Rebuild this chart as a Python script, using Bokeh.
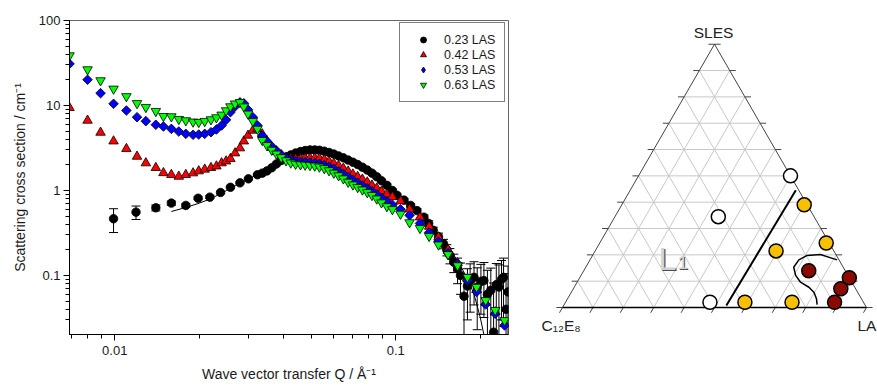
import math
from bokeh.plotting import figure
from bokeh.layouts import row
from bokeh.models import FixedTicker, Legend, LegendItem, Range1d
from bokeh.core.properties import value
from bokeh.embed import file_html
from bokeh.resources import INLINE

FONT = "Liberation Sans"

# ---------------- SANS data ----------------
Q = [0.0069, 0.0080, 0.0089, 0.0099, 0.0110, 0.0120, 0.0129, 0.0140, 0.0149, 0.0159,
     0.0169, 0.0179, 0.0190, 0.0199, 0.0209, 0.0220, 0.0230, 0.0240, 0.0249, 0.0258,
     0.0268, 0.0279, 0.0288, 0.0298, 0.0310, 0.0322,
     0.0335, 0.0348, 0.0362, 0.0376, 0.0391, 0.0407, 0.0423, 0.0440, 0.0458, 0.0476,
     0.0495, 0.0515, 0.0535, 0.0557, 0.0579, 0.0602, 0.0626, 0.0651, 0.0677, 0.0704,
     0.0732, 0.0761, 0.0792, 0.0823, 0.0856, 0.0890, 0.0930,
     0.0973, 0.104, 0.112, 0.122, 0.1315, 0.142, 0.1535, 0.166, 0.180, 0.194, 0.209,
     0.226, 0.244]

I_063 = [38.7, 26.5, 19.7, 15.7, 12.8, 10.6, 9.55, 8.57, 7.48, 7.42,
         6.9, 6.66, 6.43, 6.36, 6.54, 6.84, 7.22, 7.77, 8.73, 9.73,
         10.5, 10.9, 9.7, 7.98, 6.54, 5.3,
         3.9, 3.4, 3.0, 2.7, 2.45, 2.25, 2.12, 2.05, 2.02, 2.0,
         1.98, 1.95, 1.9, 1.82, 1.72, 1.61, 1.5, 1.38, 1.26, 1.17,
         1.09, 1.02, 0.95, 0.88, 0.8, 0.72, 0.65,
         0.6, 0.53, 0.42, 0.36, 0.29, 0.23, 0.177, 0.131, 0.0955, 0.073, 0.051,
         0.039, 0.0296]

I_053 = [30.9, 20.1, 13.96, 10.47, 8.73, 7.28, 6.54, 5.93, 5.66, 5.31,
         4.94, 4.64, 4.52, 4.55, 4.64, 4.85, 5.22, 5.82, 6.78, 8.34,
         9.73, 10.9, 10.6, 8.9, 7.28, 5.82,
         4.4, 3.8, 3.3, 2.95, 2.65, 2.42, 2.28, 2.2, 2.17, 2.15,
         2.13, 2.1, 2.06, 1.99, 1.9, 1.8, 1.68, 1.56, 1.44, 1.33,
         1.23, 1.14, 1.06, 0.98, 0.9, 0.82, 0.74,
         0.68, 0.6, 0.51, 0.41, 0.32, 0.25, 0.183, 0.137, 0.087, 0.064, 0.0456,
         0.0354, 0.0258]

I_042 = [9.4, 6.66, 4.81, 3.8, 3.09, 2.51, 2.1, 1.85, 1.61, 1.53,
         1.46, 1.53, 1.6, 1.69, 1.77, 1.85, 1.93, 2.1, 2.21, 2.36,
         2.75, 3.15, 3.8, 4.44, 5.08, 5.3,
         4.6, 3.8, 3.2, 2.85, 2.6, 2.45, 2.38, 2.35, 2.35, 2.38,
         2.4, 2.4, 2.38, 2.3, 2.2, 2.08, 1.96, 1.82, 1.68, 1.55,
         1.45, 1.35, 1.25, 1.15, 1.06, 0.98, 0.9,
         0.84, 0.75, 0.6, 0.485, 0.377, 0.282, 0.2, 0.14, 0.092, 0.068, 0.048,
         0.037, 0.027]

Q_023 = [0.0099, 0.0119, 0.0140, 0.0159, 0.0179, 0.0198, 0.0218, 0.0238, 0.0258, 0.0279,
         0.0299, 0.0322,
         0.0335, 0.0348, 0.0362, 0.0376, 0.0391, 0.0407, 0.0423, 0.0440, 0.0458, 0.0476,
         0.0495, 0.0515, 0.0535, 0.0557, 0.0579, 0.0602, 0.0626, 0.0651, 0.0677, 0.0704,
         0.0732, 0.0761, 0.0792, 0.0823, 0.0856, 0.0890, 0.0930, 0.0973,
         0.101, 0.107, 0.113, 0.119, 0.126, 0.131, 0.136, 0.142, 0.148, 0.152,
         0.156, 0.161, 0.166, 0.170, 0.175, 0.180, 0.184, 0.190, 0.195, 0.201,
         0.206, 0.212, 0.218, 0.223, 0.228, 0.233, 0.238, 0.242, 0.247, 0.251]

I_023 = [0.465, 0.556, 0.625, 0.71, 0.667, 0.81, 0.835, 0.947, 1.09, 1.23,
         1.37, 1.53,
         1.6, 1.7, 1.85, 2.05, 2.25, 2.45, 2.62, 2.76, 2.87, 2.95,
         3.0, 3.0, 2.97, 2.9, 2.8, 2.68, 2.55, 2.42, 2.28, 2.15,
         2.02, 1.88, 1.74, 1.6, 1.45, 1.3, 1.15, 1.0,
         0.88, 0.77, 0.667, 0.58, 0.485, 0.41, 0.34, 0.285, 0.236, 0.2,
         0.172, 0.143, 0.12, 0.1, 0.057, 0.075, 0.087, 0.095, 0.073, 0.085,
         0.087, 0.06, 0.067, 0.0215, 0.078, 0.073, 0.09, 0.095, 0.04, 0.064]

E_023 = [0.145, 0.1, 0.05, 0.04, 0.03, 0.03, 0.03, 0.03, 0.03, 0.03,
         0.03, 0.03,
         0.04, 0.04, 0.04, 0.05, 0.05, 0.05, 0.06, 0.06, 0.06, 0.06,
         0.06, 0.06, 0.06, 0.06, 0.06, 0.06, 0.06, 0.06, 0.05, 0.05,
         0.05, 0.05, 0.05, 0.05, 0.04, 0.04, 0.04, 0.04,
         0.03, 0.03, 0.03, 0.03, 0.03, 0.03, 0.03, 0.03, 0.03, 0.03,
         0.035, 0.035, 0.04, 0.04, 0.045, 0.045, 0.05, 0.05, 0.05, 0.05,
         0.055, 0.055, 0.055, 0.06, 0.06, 0.06, 0.06, 0.065, 0.065, 0.065]

Q_FIT = [0.0159, 0.0179, 0.020, 0.022, 0.025, 0.028, 0.031, 0.035, 0.040, 0.045,
         0.050, 0.055, 0.060, 0.070, 0.080, 0.090, 0.100, 0.110, 0.120, 0.130,
         0.140, 0.150, 0.160, 0.170, 0.180, 0.190, 0.200, 0.206]
I_FIT = [0.566, 0.63, 0.71, 0.8, 1.0, 1.22, 1.45, 1.8, 2.35, 2.8,
         3.0, 2.95, 2.75, 2.25, 1.75, 1.3, 0.95, 0.72, 0.55, 0.42,
         0.32, 0.24, 0.18, 0.13, 0.092, 0.06, 0.032, 0.02]

SERIES_LABELS = ["0.23 LAS", "0.42 LAS", "0.53 LAS", "0.63 LAS"]
X_TICKS = [0.01, 0.1]
X_TICK_LABELS = ["0.01", "0.1"]
Y_TICKS = [0.1, 1.0, 10.0, 100.0]
Y_TICK_LABELS = ["0.1", "1", "10", "100"]

# ---------------- Ternary data (fractions: LA, SLES) ----------------
OPEN_LA = [0.50, 0.34, 0.475]
OPEN_SLES = [0.50, 0.345, 0.02]
YELLOW_LA = [0.60, 0.745, 0.595, 0.59, 0.745]
YELLOW_SLES = [0.39, 0.245, 0.215, 0.02, 0.02]
RED_LA = [0.74, 0.887, 0.88, 0.885]
RED_SLES = [0.14, 0.113, 0.071, 0.02]
BOUND_LA = [0.535, 0.545]
BOUND_SLES = [0.008, 0.445]
CURVE_LA = [0.813, 0.748, 0.706, 0.687, 0.684, 0.706, 0.735, 0.772, 0.798, 0.819, 0.832]
CURVE_SLES = [0.181, 0.201, 0.198, 0.181, 0.153, 0.122, 0.096, 0.077, 0.058, 0.033, 0.011]

# =============== left: SANS plot ===============
p = figure(width=539, height=386, x_axis_type="log", y_axis_type="log",
           x_range=Range1d(0.0069, 0.252), y_range=Range1d(0.0202, 100),
           output_backend="svg", toolbar_location=None,
           min_border_left=69, min_border_right=31, min_border_top=20, min_border_bottom=52)
p.grid.visible = False
p.outline_line_color = "#666666"
p.background_fill_color = "white"

minor_x = [0.007, 0.008, 0.009] + [k / 100 for k in range(2, 10)] + [0.2]
p.xaxis.ticker = FixedTicker(ticks=X_TICKS, minor_ticks=minor_x)
p.xaxis.major_label_overrides = {t: s for t, s in zip(X_TICKS, X_TICK_LABELS)}
minor_y = ([k / 100 for k in range(3, 10)] + [k / 10 for k in range(2, 10)]
           + [float(k) for k in range(2, 10)] + [float(k * 10) for k in range(2, 10)])
p.yaxis.ticker = FixedTicker(ticks=Y_TICKS, minor_ticks=minor_y)
p.yaxis.major_label_overrides = {t: s for t, s in zip(Y_TICKS, Y_TICK_LABELS)}

for ax in (p.xaxis[0], p.yaxis[0]):
    ax.axis_line_color = "black"
    ax.major_tick_line_color = "black"
    ax.minor_tick_line_color = "black"
    ax.major_tick_out = 6
    ax.major_tick_in = 0
    ax.minor_tick_out = 4
    ax.minor_tick_in = 0
    ax.major_label_text_font = FONT
    ax.major_label_text_font_size = "13px"
    ax.major_label_text_color = "#1a1a1a"
    ax.axis_label_text_font = FONT
    ax.axis_label_text_font_size = "14px"
    ax.axis_label_text_font_style = "normal"
    ax.axis_label_text_color = "#1a1a1a"
p.xaxis.major_label_standoff = 5
p.yaxis.major_label_standoff = 3

p.yaxis.axis_label = "Scattering cross section / cm\u207b\u00b9"
p.yaxis.axis_label_standoff = 8
p.xaxis.axis_label = "Wave vector transfer Q / \u00c5\u207b\u00b9"
p.xaxis.axis_label_standoff = 8

# error bars for 0.23
low = [max(i - e, 1e-3) for i, e in zip(I_023, E_023)]
high = [i + e for i, e in zip(I_023, E_023)]
p.segment(x0=Q_023, y0=low, x1=Q_023, y1=high, line_color="black", line_width=1)
p.scatter(Q_023, high, marker="dash", size=9, line_color="black", line_width=1)
p.scatter(Q_023, low, marker="dash", size=9, line_color="black", line_width=1)
p.line(Q_FIT, I_FIT, line_color="black", line_width=1)

r_b = p.scatter(Q_023, I_023, marker="circle", size=8.5, fill_color="black",
                line_color="black", line_width=0.8)
r_r = p.scatter(Q, I_042, marker="triangle", size=9.5, fill_color="#ff0000",
                line_color="black", line_width=0.8)
r_u = p.scatter(Q, I_053, marker="square", angle=math.pi / 4, size=6.8,
                fill_color="#0000ff", line_color="black", line_width=0.8)
r_g = p.scatter(Q, I_063, marker="inverted_triangle", size=9.5, fill_color="#00ff00",
                line_color="black", line_width=0.8)
# legend glyph for the diamonds (legend glyphs are drawn unrotated); point lies off-frame
r_u_leg = p.scatter([1.0], [1000.0], marker="diamond", size=11, fill_color="#0000ff",
                    line_color="black", line_width=0.8)

legend = Legend(items=[LegendItem(label=lab, renderers=[r]) for lab, r in
                       zip(SERIES_LABELS, [r_b, r_r, r_u_leg, r_g])],
                location=(330, 232), margin=0, padding=9, spacing=0,
                label_height=15, glyph_height=15, glyph_width=28, label_standoff=7,
                label_text_font=FONT, label_text_font_size="12.5px",
                label_text_color="#1a1a1a",
                border_line_color="black", border_line_width=1,
                background_fill_color="white", background_fill_alpha=1.0)
p.add_layout(legend)

# =============== right: ternary diagram ===============
SQ = math.sqrt(3) / 2


def tern(la, sles):
    return [a + s / 2 for a, s in zip(la, sles)], [s * SQ for s in sles]


t = figure(width=338, height=386, x_range=Range1d(-0.0757, 1.0362),
           y_range=Range1d(-0.0888, 0.9441), output_backend="svg",
           toolbar_location=None, x_axis_location=None, y_axis_location=None,
           min_border_left=0, min_border_right=0, min_border_top=20,
           min_border_bottom=52)
t.grid.visible = False
t.outline_line_color = None

gx, gy = [], []
for i in range(1, 10):
    f = i / 10
    for la, s in (([0, 1 - f], [f, f]), ([f, f], [0, 1 - f]), ([1 - f, 0], [0, 1 - f])):
        xx, yy = tern(la, s)
        gx.append(xx)
        gy.append(yy)
t.multi_line(gx, gy, line_color="#c8c8c8", line_width=1)

# tick marks
L = 0.02
tx, ty = [], []
for i in range(11):
    f = i / 10
    tx.append([f, f - 0.5 * L]); ty.append([0, -SQ * L])
    tx.append([f / 2, f / 2 - L]); ty.append([f * SQ, f * SQ])
    tx.append([1 - f / 2, 1 - f / 2 + L]); ty.append([f * SQ, f * SQ])
t.multi_line(tx, ty, line_color="#444444", line_width=1)

t.line([0.5, 0], [SQ, 0], line_color="#444444", line_width=1)
t.line([0.5, 1], [SQ, 0], line_color="#444444", line_width=1)
t.line([0, 1], [0, 0], line_color="black", line_width=1.5)

bx, by = tern(BOUND_LA, BOUND_SLES)
t.line(bx, by, line_color="black", line_width=2)
cx, cy = tern(CURVE_LA, CURVE_SLES)
t.line(cx, cy, line_color="black", line_width=1.5)

for la, sl, col in ((OPEN_LA, OPEN_SLES, "white"), (YELLOW_LA, YELLOW_SLES, "#f8c000"),
                    (RED_LA, RED_SLES, "#8b0a00")):
    xx, yy = tern(la, sl)
    t.scatter(xx, yy, marker="circle", size=14, fill_color=col, line_color="black",
              line_width=1.5)

t.text(x=[0.4967], y=[0.9046], text=["SLES"], text_font=value(FONT),
       text_font_size="15.5px", text_color="#222222", text_align="center",
       text_baseline="middle")
t.text(x=[-0.0691], y=[-0.0592], text=["C\u2081\u2082E\u2088"], text_font=value(FONT),
       text_font_size="15.5px", text_color="#222222", text_align="left",
       text_baseline="middle")
t.text(x=[0.9704], y=[-0.0592], text=["LA"], text_font=value(FONT),
       text_font_size="15.5px", text_color="#222222", text_align="left",
       text_baseline="middle")
# embossed L1
t.text(x=[0.3158 + 0.004], y=[0.1612 - 0.004], text=["L"], text_font=value(FONT),
       text_font_size="32px", text_color="#4d4d4d", text_baseline="alphabetic")
t.text(x=[0.3158], y=[0.1612], text=["L"], text_font=value(FONT),
       text_font_size="32px", text_color="#d2d2d2", text_baseline="alphabetic")
t.text(x=[0.3783 + 0.003], y=[0.148 - 0.003], text=["1"], text_font=value(FONT),
       text_font_size="19px", text_color="#4d4d4d", text_baseline="alphabetic")
t.text(x=[0.3783], y=[0.148], text=["1"], text_font=value(FONT),
       text_font_size="19px", text_color="#d2d2d2", text_baseline="alphabetic")

layout = row(p, t)
open("out.html", "w").write(file_html(layout, INLINE))
